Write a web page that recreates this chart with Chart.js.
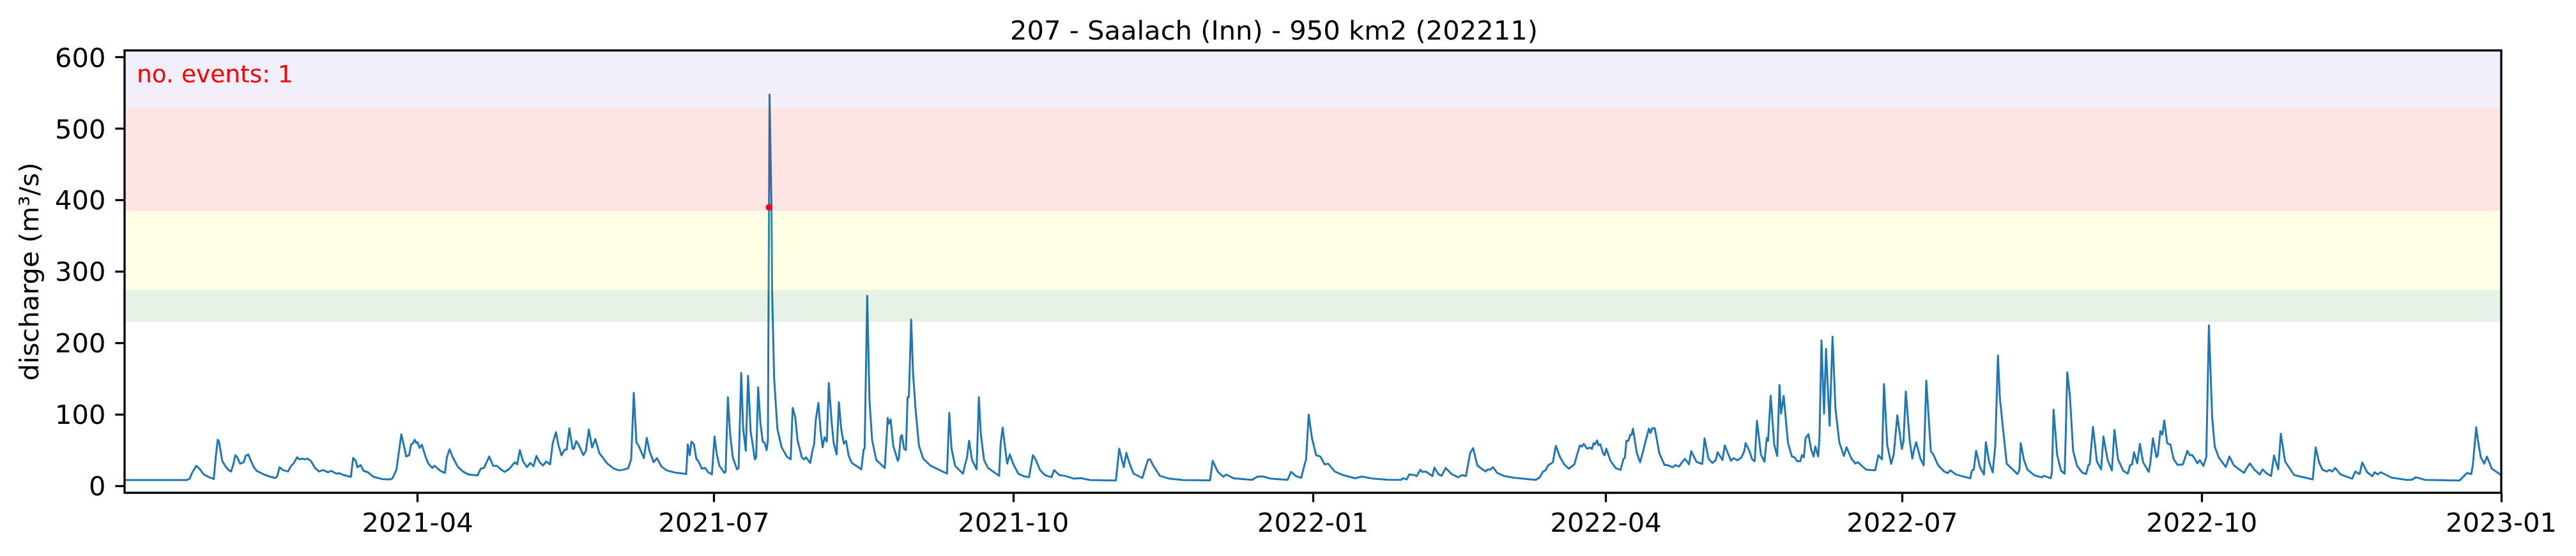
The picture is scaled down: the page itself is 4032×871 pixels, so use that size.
<!DOCTYPE html>
<html><head><meta charset="utf-8">
<style>html,body{margin:0;padding:0;background:#fff}canvas{display:block}</style>
<script src="https://cdn.jsdelivr.net/npm/chart.js@4"></script>
</head><body><canvas id="c" width="4032" height="871"></canvas>
<script>
// days since 2021-01-01
const flowDays = [
0,13,19,20,20.7,22,23,24.3,26,27.4,28,28.6,29,30,31,32,32.7,33.4,34,34.6,35.5,36.6,37.2,38,38.6,39.7,40.6,42.3,44.5,46.3,46.9,47.6,48.6,50.2,51,52,53,53.7,54.6,55.4,56.2,57.2,58.5,59.7,61,62.5,63.5,65,66,67.3,69.5,70.2,71,71.5,72.5,73.4,74.7,76.5,79,81.7,
82.3,83.5,84.2,85,86,86.5,87.4,88,88.6,89.1,89.6,90,90.6,91.3,92.5,93.3,94.5,95.2,97,98.4,99,99.8,100.8,102.3,103.9,105.5,108.4,109.4,110.4,111.2,112,113.2,114.3,115.7,116.7,118.1,119.3,119.9,120.6,121.4,122.4,123.6,124.6,125.6,126.5,127.5,128.5,129.5,130.7,131.5,132.5,133.2,134.2,135.2,135.8,136.6,137.6,138,138.7,139.4,140.9,141.7,142.6,143.6,144.6,145.8,147,148.2,150.3,151.9,153.1,154.7,155.6,156.4,157.2,158,159.5,160.4,161.2,162.5,163.5,164.9,166.5,169,172.5,
173,173.6,174.1,174.9,175.6,176.3,177.3,178.3,179.2,180.4,181.2,181.9,182.7,184.2,184.6,185.3,186,186.8,188.1,188.6,189.4,190,190.8,191.5,192.3,193.6,194,194.6,195.3,196,196.6,197.2,197.6,198.1,198.7,198.9,199.5,200.5,201.8,203.4,204.6,205.2,206,206.7,208,208.7,209.3,210.6,211.3,211.8,212.3,213.1,213.8,214.4,215,215.7,216.3,217.2,217.8,218.7,219.4,220.1,220.9,221.6,222.4,223.4,224.7,226.3,227,227.3,228.1,228.8,229.6,230.9,233.5,234.4,234.8,235.3,236.1,237.5,237.8,238.4,238.8,239.4,240,240.5,240.9,241.6,242.2,243,244,245.3,247.6,252.6,253.3,254,255.1,257.5,258.4,258.7,259.4,260.3,261.7,262.4,263,264,265.2,
268.6,269.1,269.7,270.5,271.1,271.9,272.9,274.5,276.2,277.8,279,279.8,281.2,282.7,284.7,285.5,287.1,288.8,291.6,293.7,296.5,304.5,305.5,306.3,306.9,307.7,308.7,309.9,312.6,313.6,314.4,315,316,318,320.9,325,333.4,
334.2,335.8,337.5,338.4,340.6,346.3,348,349.8,352,357.2,358.3,359.8,361.4,362.5,362.9,363.7,364.7,366,367.3,368.6,369.7,371.7,374.3,378,380,383.5,387.9,392.1,392.7,393.8,394.6,396.2,396.9,398,398.6,399.7,401.7,402.3,403.6,404.5,405.8,407.6,409.6,410.8,412,413.3,414.2,415.5,416.8,418.1,418.7,419.4,420.3,421.6,423.8,426.9,433.4,434.7,435.6,436.5,437.2,438.7,439.6,440.9,442.2,443.6,445.3,446.1,447,447.6,448.2,449.2,450.1,450.7,451.2,451.6,
452.3,452.7,453.3,454.1,454.6,455.1,456.4,458,459.5,460.4,460.8,461.3,461.9,462.5,462.9,463.3,464.5,465.5,466.5,467.4,468.2,468.7,469.2,470,471.4,473,473.9,475.5,476.3,477.5,478.3,479.3,480.5,481.2,482.8,483.6,484.6,485.3,486.5,487.7,488.7,489.3,490.8,491.5,493.4,494.2,495.4,496.6,497.5,497.9,499.1,499.9,500.7,501.4,502.6,503.7,504.4,504.8,505.6,506.7,507.6,508.3,508.8,509.6,510.9,512.1,512.9,513.7,514.7,515.2,515.8,516.3,517.2,518,518.8,519.3,520.2,520.6,521.2,522,522.6,523.7,524.6,525.5,526.7,528.1,528.9,530.4,531.6,532.4,534.9,537.7,538.7,539.8,540.4,541.4,542.6,543.4,544.5,545.9,546.4,547.1,548.3,549.1,549.7,550.3,551.6,552.6,553.4,554.8,555.6,557,558.9,560,560.8,562.5,566.9,567.4,568,568.7,569.9,571.1,571.7,572.7,573.8,574.6,575.4,576,576.8,
578.1,581.4,582,582.4,583.4,584.5,586.7,588.9,589.5,591.6,592,592.5,593.6,594.8,595.9,596.2,596.7,597.5,598.5,599.7,601.3,602.5,603.2,603.6,604.6,605.8,607.1,607.8,609.1,610.4,611.2,612.3,613.9,615.3,616,616.6,617.2,618.2,619,620,621.7,622.2,623,624.1,624.5,625.3,625.9,626.5,627.4,628.4,629.4,630.6,632.2,633.6,634.3,635.1,636.1,636.7,637.4,638.5,639.4,640.2,641.2,642,643.2,645.4,646.5,647.9,651,651.8,652.8,654.2,655.8,656.7,657.9,659.3,660.2,661.5,662.3,663.6,666.4,672.1,
673,674.1,675.1,676.4,677.2,678.1,679,680.6,684.2,685.2,686.5,687.3,688.8,690.4,691.1,692.1,693,696.3,700.9,702.5,703.8,706.5,717.2,719.5,720.8,721.3,722.3,722.8,723.7,724.8,725.6,727.1,730
];
// m3/s
const flowValues = [
8,8,8,10,18,28,24,16,12,9.5,40,64.6,62,35,27,22,20,30,43,40,31,33,42,44,37,26,21,17,13,11,13.5,26,22,20,27,32,40,37,38,37,38,35,25,20,22,19,21,17,17.5,15,12.5,39,35,26,29,21,19,12.5,9.5,9,
10.6,22.5,46,72,52,41,43,58,59.6,64.6,60,61,53,57.5,40,31,25,28,21,18,40,51,40,27,20,16,14.5,24,25,33,41,28,28,22.5,19.5,23.4,30,33,30,50,34,26.3,32,27.5,41.8,33,28.4,34,30,59.6,75,58,42.7,50.7,50.7,80.4,52,51.6,62.5,58,43,49,78.9,53.7,65.5,46,38.8,31.4,24,21.6,22.5,24.6,37.3,130,61,55,38.8,67,49,33,38.8,27,21.6,18.6,16.5,
58,43,62,58,38,34,24,25,19.3,16,69,44,28,18,20,124,72,40,23,25,158,80,49,154,76,37,40,138,88,62,60,50,64,548,390,272,152,80,54,41,37,109,96,64,40,37,40,32,50,58,92,116,76,54,68,62,144,88,60,44,117,80,59,63,42,32,28,23,51,52,266,120,64,36,25,95,87,93,56,35,38,69,71,52,50,124,124,233,156,104,56,38,28,17,102,52,28,17,34,38,63,36,23,124,72,36,25,
14,60,81.4,51.6,31,44,31,17,13.4,12,43,37,22,15,12,22,15,14,10,10.7,8,7.5,52,37,26,46,31,17,11,26,37,37,28,14,10,8,7.6,
35,19.5,12.7,15.7,10.6,8.2,13,13,10,8.2,19.5,13.6,11.2,31,37,99.7,67,42.7,41,30,31,20,15,10.6,13,10,8.5,8.2,10.6,9,16,15,13.6,22.5,19.5,20,13.6,25.5,16,14,24.9,16.5,12,15,13.6,46,52.8,28.4,24,20,23,22.5,26,18,13.6,11.2,8.2,12,19.5,22,28.4,33,56,40,30,24,30,43,56.6,55,58.7,52,53.6,51.6,59.6,58,
63.5,57,58,45.6,42.6,52,35,24.7,22.3,38,39,63,63,71.5,71.5,80,45.6,33,50,66,80,74,80.5,80.8,45.6,29,29,26,29,27,32.8,37.8,30,48.5,33.6,32,30.7,66.4,38,32,36,47,36,56.6,35,38.7,35.7,39.6,48.5,60,48.5,37,34.5,91,44,33.6,67,63,126,57.5,41.7,141,101,126,60.5,41,40,34.5,34.5,43,40,66.4,72.4,51.5,41,55,41,69,203.6,101,191.7,84,208.7,108,60.5,41.7,54,38,31.3,33,22.6,21.7,43,37,142.5,57.5,30.7,44,98.6,51.5,62.6,132,63.5,38,51.5,61,38,28.6,147,48.5,43.5,29,20,17.8,21.7,15.8,10.4,21,23,49,26,15.8,61,33.6,18.7,57.5,182.7,123,87,
31,16.5,22,59.6,36,22.5,14.5,11.8,14,10.6,19.5,106.6,43,21,17,67,159,126.5,49,28,18.6,16.5,29,30,82.5,34,23,69,36,21.6,78.3,37,21,17,29,30,47,31.4,58.7,33,19.5,31.4,66.5,40,43,76.6,71.5,91.4,59.6,57.5,37,29.3,30,49,43,43,36,31.4,36,27.8,40,224.6,96.8,55,40,26.3,41,28.4,18,24.8,31.4,22.5,16,23,17.4,13.6,42.4,23,73,34,15,9,
53.7,32,22.4,20,22.4,20,25,16,10,20,16.4,32.8,19,13.4,19,16,19,11.4,8.4,8.4,12,8.4,7.5,18,16.4,30,82,64.6,40,31,41,24,15
];
const eventDays = [197.9];
const eventValues = [390];
const bandEdges = [229.5, 274, 385, 529, 609.7];
const bandColors = ['rgba(0,128,0,0.1)','rgba(255,255,0,0.1)','rgba(255,0,0,0.105)','rgba(125,95,205,0.1)'];
const yTicks = [0,100,200,300,400,500,600];
const xTickDays = [90,181,273,365,455,546,638,730];
const xTickLabels = ['2021-04','2021-07','2021-10','2022-01','2022-04','2022-07','2022-10','2023-01'];
const titleText = '207 - Saalach (Inn) - 950 km2 (202211)';
const yLabel = 'discharge (m³/s)';
const noteText = 'no. events: 1';

const FONT = '"DejaVu Sans"';
const overlay = {
  id:'overlay',
  afterDatasetDraw(chart,args){
    if(args.index!==0) return;
    const {ctx,chartArea:a,scales:{y}}=chart;
    ctx.save();
    for(let i=0;i<bandColors.length;i++){
      const t=y.getPixelForValue(bandEdges[i+1]), b=y.getPixelForValue(bandEdges[i]);
      ctx.fillStyle=bandColors[i];
      ctx.fillRect(a.left,t,a.right-a.left,b-t);
    }
    ctx.restore();
  },
  afterDraw(chart){
    const {ctx,chartArea:a}=chart;
    ctx.save();
    ctx.strokeStyle='#000';ctx.lineWidth=3.33;
    ctx.strokeRect(a.left,a.top,a.right-a.left,a.bottom-a.top);
    ctx.fillStyle='#000';ctx.font='41.67px '+FONT;ctx.textAlign='center';ctx.textBaseline='alphabetic';
    ctx.fillText(titleText,1994,62);
    ctx.fillStyle='#ff0000';ctx.font='37.5px '+FONT;ctx.textAlign='left';ctx.textBaseline='middle';
    ctx.fillText(noteText,214,119);
    ctx.restore();
  }
};
new Chart(document.getElementById('c'),{
  type:'line',
  data:{datasets:[
    {data:flowDays.map((d,i)=>({x:d,y:flowValues[i]})),borderColor:'#1f77b4',borderWidth:3,pointRadius:0,tension:0,fill:false,order:2,borderJoinStyle:'round'},
    {data:eventDays.map((d,i)=>({x:d,y:eventValues[i]})),showLine:false,pointRadius:5,pointBackgroundColor:'#ff0000',pointBorderColor:'#ff0000',pointBorderWidth:0,order:1}
  ]},
  options:{
    responsive:false,devicePixelRatio:1,animation:false,
    layout:{padding:{left:0,right:117,top:79,bottom:0}},
    plugins:{legend:{display:false},tooltip:{enabled:false},title:{display:false}},
    scales:{
      x:{type:'linear',min:0,max:730,
        afterBuildTicks(s){s.ticks=xTickDays.map(v=>({value:v}));},
        afterFit(s){s.height=99;},
        grid:{drawOnChartArea:false,drawTicks:true,tickLength:14.6,tickWidth:3.33,tickColor:'#000'},
        border:{display:false},
        ticks:{autoSkip:false,maxRotation:0,minRotation:0,color:'#000',font:{family:FONT,size:41.67},padding:11,
          callback(v){const i=xTickDays.indexOf(v);return i>=0?xTickLabels[i]:'';}}
      },
      y:{type:'linear',min:-9.8,max:609.7,
        afterBuildTicks(s){s.ticks=yTicks.map(v=>({value:v}));},
        afterFit(s){s.width=195;},
        grid:{drawOnChartArea:false,drawTicks:true,tickLength:14.6,tickWidth:3.33,tickColor:'#000'},
        border:{display:false},
        title:{display:true,text:yLabel,color:'#000',font:{family:FONT,size:41.67},padding:{top:24,bottom:0}},
        ticks:{color:'#000',font:{family:FONT,size:41.67},padding:15,labelOffset:4,callback(v){return String(v);}}
      }
    }
  },
  plugins:[overlay]
});
</script></body></html>
